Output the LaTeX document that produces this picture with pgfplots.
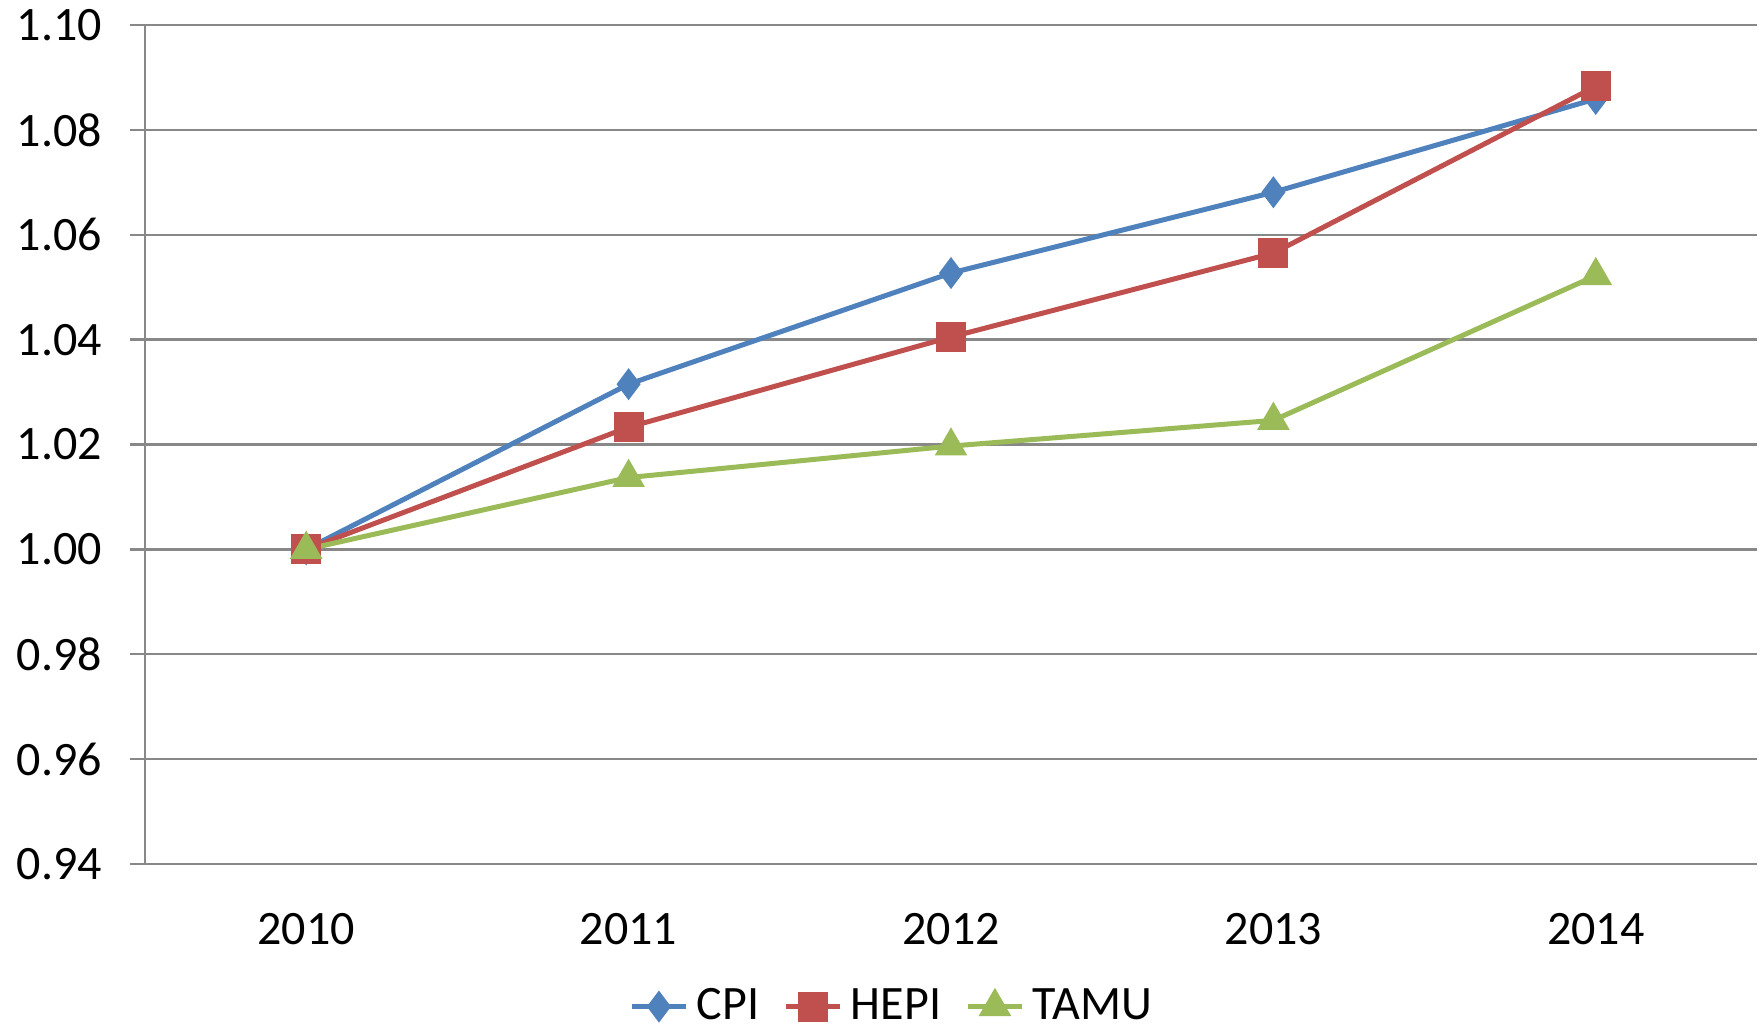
\documentclass[border=0pt]{standalone}
\usepackage{pgfplots}
\pgfplotsset{compat=1.18}
\usepackage{fontspec}
\setmainfont{Carlito}
\definecolor{cpi}{HTML}{4F81BD}
\definecolor{hepi}{HTML}{C0504D}
\definecolor{tamu}{HTML}{9BBB59}
\definecolor{gridc}{HTML}{888888}
\begin{document}
\begin{tikzpicture}[x=1pt,y=1pt]
\useasboundingbox (0,0) rectangle (440.25,256.75);
\begin{axis}[
  at={(36.25pt,40.75pt)}, anchor=south west,
  scale only axis, width=403pt, height=209.75pt,
  xmin=-0.5, xmax=4.5, ymin=0.94, ymax=1.10,
  ytick={0.94,0.96,...,1.101},
  yticklabel style={/pgf/number format/fixed,/pgf/number format/fixed zerofill,/pgf/number format/precision=2},
  /pgf/number format/assume math mode=true,
  xtick={0,1,2,3,4},
  xticklabels={2010,2011,2012,2013,2014},
  extra x ticks={-0.5,0.5,1.5,2.5,3.5,4.5},
  extra x tick labels={},
  extra x tick style={major tick length=3.75pt, tick style={gridc, line width=0.6pt}},
  x tick style={draw=none},
  tick align=outside,
  major tick length=3.75pt,
  y tick style={gridc, line width=0.6pt},
  ymajorgrids, grid style={gridc, line width=0.6pt},
  axis x line*=bottom, axis y line*=left,
  axis line style={gridc, line width=0.6pt, -},
  tick label style={font=\fontsize{12}{14}\selectfont, black},
  xticklabel style={yshift=-5pt},
  yticklabel style={xshift=-3.5pt},
  legend style={at={(0.465,-0.17)}, anchor=center, draw=none, legend columns=-1,
    font=\fontsize{12}{14}\selectfont, inner sep=0pt,
    /tikz/every even column/.append style={column sep=4pt}},
  legend image code/.code={
    \draw[#1, mark repeat=2, mark phase=2] plot coordinates {(0cm,0cm) (0.24cm,0cm) (0.48cm,0cm)};
  },
]
\addplot[cpi, line width=1.25pt, mark=diamond*, mark size=3.6pt, mark options={solid, fill=cpi, line width=0.5pt}]
  coordinates {(0,1.0) (1,1.0315) (2,1.0527) (3,1.0681) (4,1.0859)};
\addlegendentry{CPI}
\addplot[hepi, line width=1.25pt, mark=square*, mark size=3.5pt, mark options={solid, fill=hepi, line width=0.5pt}]
  coordinates {(0,1.0) (1,1.0233) (2,1.0405) (3,1.0565) (4,1.0883)};
\addlegendentry{HEPI}
\addplot[tamu, line width=1.25pt, mark=triangle*, mark size=4.2pt, mark options={solid, fill=tamu, line width=0.5pt}]
  coordinates {(0,1.0) (1,1.0137) (2,1.0197) (3,1.0246) (4,1.0522)};
\addlegendentry{TAMU}
\end{axis}
\end{tikzpicture}
\end{document}
